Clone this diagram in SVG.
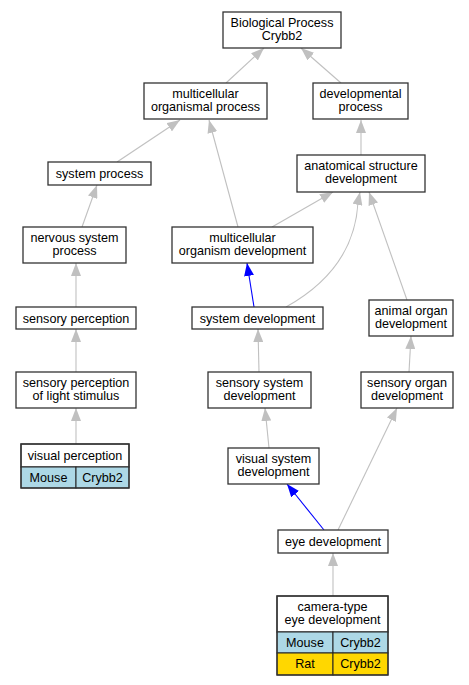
<svg xmlns="http://www.w3.org/2000/svg" width="469" height="685" viewBox="0 0 469 685">
<style>
.n rect{fill:#fff;stroke:#333;stroke-width:1.3}
.n rect.m,.n rect.r{stroke:#222;stroke-width:1}
text{font-family:"Liberation Sans",Arial,sans-serif;font-size:12.6px;text-anchor:middle;fill:#000}
.e path{fill:none;stroke:#c0c0c0;stroke-width:1.1}
.e path.b{stroke:#0000ff}
rect.m{fill:#add8e6}
rect.r{fill:#ffd700}
.n rect.o{fill:none;stroke:#333;stroke-width:1.3}
</style>
<defs>
<marker id="ag" markerUnits="userSpaceOnUse" markerWidth="13" markerHeight="10" refX="13" refY="5" orient="auto"><path d="M0,0L13,5L0,10z" fill="#c0c0c0"/></marker>
<marker id="ab" markerUnits="userSpaceOnUse" markerWidth="13" markerHeight="10" refX="13" refY="5" orient="auto"><path d="M0,0L13,5L0,10z" fill="#0000ff"/></marker>
</defs>
<rect width="469" height="685" fill="#fff"/>
<g class="e" id="edges">
<path d="M226,83L264,48" marker-end="url(#ag)"/>
<path d="M341,83L301,48" marker-end="url(#ag)"/>
<path d="M117,162L180,120" marker-end="url(#ag)"/>
<path d="M238,227L209,120" marker-end="url(#ag)"/>
<path d="M361,155L361,120" marker-end="url(#ag)"/>
<path d="M272,227L333,192" marker-end="url(#ag)"/>
<path d="M82,227L97,185" marker-end="url(#ag)"/>
<path d="M286,307C338,278 356,240 358,202L360,192" marker-end="url(#ag)"/>
<path d="M407,300L369,192" marker-end="url(#ag)"/>
<path d="M76,307L76,263" marker-end="url(#ag)"/>
<path d="M76,372L76,329" marker-end="url(#ag)"/>
<path d="M76,444L76,408" marker-end="url(#ag)"/>
<path class="b" d="M254,307L247,263" marker-end="url(#ab)"/>
<path d="M259,372L258,329" marker-end="url(#ag)"/>
<path d="M409,372L411,336" marker-end="url(#ag)"/>
<path d="M269,448L265,408" marker-end="url(#ag)"/>
<path d="M338,530L397,408" marker-end="url(#ag)"/>
<path class="b" d="M324,530L287,484" marker-end="url(#ab)"/>
<path d="M333,596L333,553" marker-end="url(#ag)"/>
</g>
<g class="n" id="bp"><rect x="223" y="12" width="118" height="36"/><text x="282" y="27">Biological Process</text><text x="282" y="40">Crybb2</text></g>
<g class="n" id="mop"><rect x="144" y="83" width="123" height="36"/><text x="205.5" y="98">multicellular</text><text x="205.5" y="111">organismal process</text></g>
<g class="n" id="devproc"><rect x="313" y="83" width="95" height="36"/><text x="360.5" y="98">developmental</text><text x="360.5" y="111">process</text></g>
<g class="n" id="sysproc"><rect x="48" y="162" width="103" height="23"/><text x="99.5" y="178">system process</text></g>
<g class="n" id="anat"><rect x="297" y="155" width="128" height="37"/><text x="361" y="170">anatomical structure</text><text x="361" y="183">development</text></g>
<g class="n" id="nervous"><rect x="23" y="227" width="103" height="36"/><text x="74.5" y="242">nervous system</text><text x="74.5" y="255">process</text></g>
<g class="n" id="mod"><rect x="172" y="227" width="141" height="36"/><text x="242.5" y="242">multicellular</text><text x="242.5" y="255">organism development</text></g>
<g class="n" id="sensperc"><rect x="16" y="307" width="120" height="22"/><text x="76" y="322.5">sensory perception</text></g>
<g class="n" id="sysdev"><rect x="192" y="307" width="131" height="22"/><text x="257.5" y="322.5">system development</text></g>
<g class="n" id="animalorgan"><rect x="369" y="300" width="84" height="36"/><text x="411" y="315">animal organ</text><text x="411" y="328">development</text></g>
<g class="n" id="light"><rect x="16" y="372" width="120" height="36"/><text x="76" y="387">sensory perception</text><text x="76" y="400">of light stimulus</text></g>
<g class="n" id="senssys"><rect x="208" y="372" width="103" height="36"/><text x="259.5" y="387">sensory system</text><text x="259.5" y="400">development</text></g>
<g class="n" id="sensorgan"><rect x="361" y="372" width="92" height="36"/><text x="407" y="387">sensory organ</text><text x="407" y="400">development</text></g>
<g class="n" id="visperc"><rect x="21" y="444" width="108" height="23"/><text x="75" y="459.5">visual perception</text>
<rect class="m" x="21" y="467" width="55" height="21"/><rect class="m" x="76" y="467" width="53" height="21"/><text x="48.5" y="482">Mouse</text><text x="102.5" y="482">Crybb2</text>
<rect class="o" x="21" y="444" width="108" height="44"/></g>
<g class="n" id="vissys"><rect x="228" y="448" width="91" height="36"/><text x="273.5" y="463">visual system</text><text x="273.5" y="476">development</text></g>
<g class="n" id="eye"><rect x="278" y="530" width="110" height="23"/><text x="333" y="545.5">eye development</text></g>
<g class="n" id="camera"><rect x="277" y="596" width="111" height="36"/><text x="332.5" y="611">camera-type</text><text x="332.5" y="624">eye development</text>
<rect class="m" x="277" y="632" width="56" height="21"/><rect class="m" x="333" y="632" width="55" height="21"/><text x="305" y="647">Mouse</text><text x="360.5" y="647">Crybb2</text>
<rect class="r" x="277" y="653" width="56" height="22"/><rect class="r" x="333" y="653" width="55" height="22"/><text x="305" y="668">Rat</text><text x="360.5" y="668">Crybb2</text>
<rect class="o" x="277" y="596" width="111" height="79"/></g>
</svg>
